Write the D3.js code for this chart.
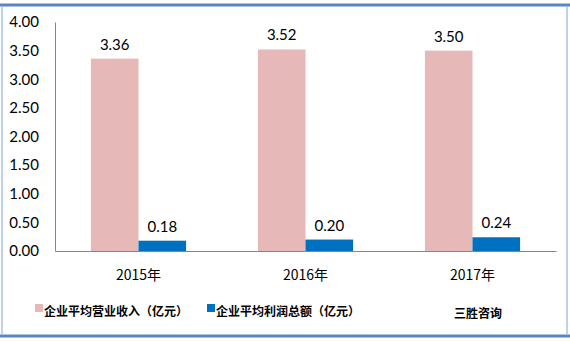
<!DOCTYPE html>
<html>
<head>
<meta charset="utf-8">
<script src="https://cdn.jsdelivr.net/npm/d3@7"></script>
<style>
  body { margin: 0; background: #fff; }
  svg { display: block; }
</style>
</head>
<body>
<svg id="chart" width="570" height="342"></svg>
<script>
const years = ['2015年', '2016年', '2017年'];
const revenue = [3.36, 3.52, 3.50];
const profit = [0.18, 0.20, 0.24];
const seriesNames = ['企业平均营业收入（亿元）', '企业平均利润总额（亿元）'];
const yTicks = [0, 0.5, 1, 1.5, 2, 2.5, 3, 3.5, 4];

const colors = ['#E6B9B8', '#0070C0'];
const numFont = 'Lato, "Liberation Sans", sans-serif';
const cjkFont = '"Noto Sans CJK SC", sans-serif';

const svg = d3.select('#chart');
const width = 570, height = 342;

// Frame
svg.append('line').attr('x1', 0).attr('x2', width).attr('y1', 5).attr('y2', 5)
  .attr('stroke', '#5B87C0').attr('stroke-width', 3);
svg.append('line').attr('x1', 0).attr('x2', width).attr('y1', 336).attr('y2', 336)
  .attr('stroke', '#5B87C0').attr('stroke-width', 3);
svg.append('line').attr('x1', 2).attr('x2', 2).attr('y1', 6).attr('y2', 335)
  .attr('stroke', '#A9C4E4').attr('stroke-width', 1.5);
svg.append('line').attr('x1', 567).attr('x2', 567).attr('y1', 6).attr('y2', 335)
  .attr('stroke', '#A9C4E4').attr('stroke-width', 1.5);

const margin = { left: 55, top: 22 };
const g = svg.append('g').attr('transform', `translate(${margin.left},${margin.top})`);

const x0 = d3.scaleBand().domain(years).range([0, 501]);
const x1 = d3.scaleBand().domain([0, 1]).range([x0.bandwidth() * 0.215, x0.bandwidth() * 0.785]);
const y = d3.scaleLinear().domain([0, 4]).range([229, 0]);

// Y axis
g.append('g')
  .call(d3.axisLeft(y).tickValues(yTicks).tickSize(0).tickPadding(16).tickFormat(d3.format('.2f')))
  .call(s => s.select('.domain').attr('stroke', '#868686'))
  .selectAll('text')
  .attr('font-family', numFont).attr('font-size', 15).attr('fill', '#000');

// Bars
const groups = g.selectAll('.grp').data(years).join('g')
  .attr('transform', d => `translate(${x0(d)},0)`);

[revenue, profit].forEach((vals, si) => {
  groups.append('rect')
    .attr('x', x1(si))
    .attr('width', x1.bandwidth())
    .attr('y', (d, i) => y(vals[i]))
    .attr('height', (d, i) => y(0) - y(vals[i]))
    .attr('fill', colors[si]);
  groups.append('text')
    .attr('x', x1(si) + x1.bandwidth() / 2)
    .attr('y', (d, i) => y(vals[i]) - 9)
    .attr('text-anchor', 'middle')
    .attr('font-family', numFont).attr('font-size', 15).attr('fill', '#000')
    .text((d, i) => vals[i].toFixed(2));
});

// X axis
g.append('g')
  .attr('transform', `translate(0,${y(0)})`)
  .call(d3.axisBottom(x0).tickSize(0).tickPadding(19))
  .call(s => s.select('.domain').attr('stroke', '#868686'))
  .selectAll('text')
  .attr('font-family', cjkFont).attr('font-size', 14).attr('fill', '#000');

// Legend
const legend = svg.append('g').attr('font-family', cjkFont).attr('font-weight', 'bold')
  .attr('font-size', 12);
[[35, 0], [207, 1]].forEach(([lx, i]) => {
  legend.append('rect').attr('x', lx).attr('y', 304).attr('width', 8).attr('height', 8)
    .attr('fill', colors[i]);
  legend.append('text').attr('x', lx + 9).attr('y', 316).text(seriesNames[i]);
});
svg.append('text').attr('x', 454).attr('y', 318)
  .attr('font-family', cjkFont).attr('font-size', 12).attr('font-weight', 'bold')
  .text('三胜咨询');
</script>
</body>
</html>
